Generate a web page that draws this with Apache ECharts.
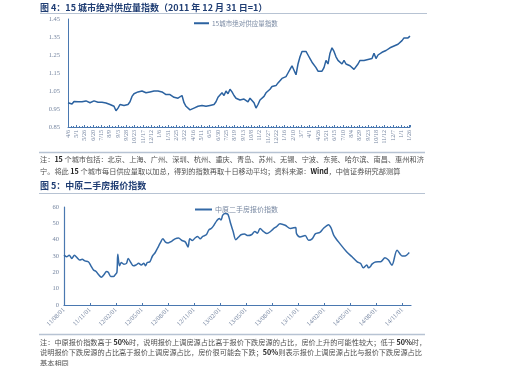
<!DOCTYPE html>
<html><head><meta charset="utf-8">
<script src="https://cdn.jsdelivr.net/npm/echarts@6/dist/echarts.min.js"></script>
<style>html,body{margin:0;padding:0;background:#fff}#c{width:524px;height:366px}</style>
</head><body><div id="c"></div>
<script>
// ---------- Figure 4 ----------
const fig4Title = '图 4：15 城市绝对供应量指数（2011 年 12 月 31 日=1）';
const fig4Legend = '15城市绝对供应量指数';
const fig4XLabels = ['4/6','5/1','5/26','6/20','7/15','8/9','9/3','9/28','10/23','11/17','12/12','1/6','1/31','2/25','3/22','4/16','5/11','6/5','6/30','7/25','8/19','9/13','10/8','11/2','11/27','12/22','1/16','2/10','3/7','4/1','4/26','5/21','6/15','7/10','8/4','8/29','9/23','10/18','11/12','12/7','1/1','1/26'];
const fig4LabelDays = 25;      // days between x labels
const fig4StepDays = 6;        // days between samples
const fig4YMin = 0.85, fig4YMax = 1.45, fig4YStep = 0.1;
const supplyIndex = [
 0.985,0.975,0.978,0.992,0.988,0.990,0.985,0.990,0.993,0.995,
 0.990,0.985,0.992,0.995,0.990,0.988,0.985,0.987,0.980,0.983,
 0.985,0.975,0.980,0.965,0.940,0.955,0.975,0.985,0.970,0.960,
 0.975,0.990,1.020,1.035,1.030,1.045,1.040,1.050,1.045,1.040,
 1.035,1.045,1.040,1.050,1.045,1.050,1.040,1.045,1.035,1.030,
 1.025,1.030,1.020,1.015,1.020,1.010,1.020,1.025,0.985,0.965,
 0.960,0.945,0.940,0.955,0.960,0.965,0.960,0.970,0.962,0.965,
 0.960,0.970,0.965,0.975,0.990,1.015,1.010,1.040,1.025,1.050,
 1.035,1.060,1.045,1.025,1.010,1.000,1.000,0.995,1.005,1.000,
 0.990,1.010,1.000,0.985,0.955,0.975,1.000,1.005,1.020,1.040,
 1.035,1.060,1.075,1.070,1.080,1.095,1.090,1.120,1.110,1.130,
 1.150,1.170,1.190,1.200,1.140,1.200,1.240,1.270,1.260,1.270,
 1.250,1.230,1.210,1.200,1.180,1.160,1.150,1.160,1.180,1.220,
 1.200,1.260,1.290,1.270,1.240,1.220,1.210,1.200,1.220,1.200,
 1.210,1.190,1.200,1.170,1.160,1.200,1.220,1.210,1.220,1.215,
 1.225,1.220,1.230,1.260,1.230,1.250,1.260,1.265,1.270,1.275,
 1.280,1.290,1.285,1.300,1.295,1.310,1.315,1.330,1.345,1.340,
 1.345,1.355
];
const fig4Note = [
 '注：{b|15} 个城市包括：北京、上海、广州、深圳、杭州、重庆、青岛、苏州、无锡、宁波、东莞、哈尔滨、南昌、惠州和济',
 '宁。将此 {b|15} 个城市每日供应量取以加总，得到的指数再取十日移动平均；资料来源：{b|Wind}，中信证券研究部测算'
];

// ---------- Figure 5 ----------
const fig5Title = '图 5：中原二手房报价指数';
const fig5Legend = '中原二手房报价指数';
const fig5XLabels = ['11/08/01','11/11/01','12/02/01','12/05/01','12/08/01','12/11/01','13/02/01','13/05/01','13/08/01','13/11/01','14/02/01','14/05/01','14/08/01','14/11/01'];
const fig5MonthsSpan = 40;     // months from 2011/08 to 2014/12
const fig5LabelMonths = 3;
const fig5Months = [0,0.3,0.6,0.9,1.2,1.5,1.8,2.1,2.4,2.8,3.1,3.4,3.7,4.0,4.3,4.6,4.9,5.1,5.4,5.7,5.9,6.1,6.2,6.4,6.6,6.9,7.2,7.4,7.7,8.0,8.3,8.6,8.9,9.2,9.4,9.6,9.9,10.2,10.5,10.8,11.1,11.4,11.7,12.0,12.4,12.8,13.2,13.6,14.0,14.3,14.5,14.8,15.1,15.4,15.7,16.0,16.4,16.7,17.0,17.3,17.6,17.9,18.1,18.3,18.6,18.9,19.2,19.5,19.8,20.1,20.4,20.8,21.2,21.6,22.0,22.3,22.6,23.0,23.4,23.8,24.1,24.5,24.9,25.5,26.1,26.7,26.8,27.2,27.8,28.2,28.6,29.0,29.5,29.9,30.5,30.8,31.1,31.8,32.6,33.2,33.8,34.2,34.5,34.9,35.1,35.3,35.5,35.9,36.5,37.0,37.4,37.8,38.4,39.0,39.3,39.8];
const fig5Values = [30.5,29.5,30.5,28.5,30.5,29,27.5,28,27,26.5,24,21.5,20.5,18.5,17,18.5,20.5,20,17.5,17.5,18.5,20,31,24,26,25,25.5,28.5,26,24,24.5,25.5,24.5,25.5,24,26,26.5,30,32,35,38,40.5,38.5,38,39,40.5,41,39.5,38.5,35.5,40.5,39.5,41,42,40.5,42,43,46,47,49,51.5,53,52,55,56,55.5,50,45,40,41.5,43,43.5,42.5,43,45,44,46.8,45,43.7,45,46.5,48,49.8,48.8,46.8,47.5,43.7,41.7,42.5,39.6,40.5,43.7,44.5,46.8,49.2,47,42.7,37.6,32.5,29.5,26.4,25.4,22.8,24.5,22.8,23.4,25,26.4,26.5,28.9,27.5,24.4,33.5,30,30,32.1];
const fig5Note = [
 '注：中原报价指数高于 {b|50%}时，说明报价上调房源占比高于报价下跌房源的占比，房价上升的可能性较大；低于 {b|50%}时，',
 '说明报价下跌房源的占比高于报价上调房源占比，房价很可能会下跌；{b|50%}则表示报价上调房源占比与报价下跌房源占比',
 '基本相同'
];

// ---------- styles ----------
const CJK = '"Noto Sans CJK SC", sans-serif';
const SERIF = '"Liberation Serif", serif';
const titleColor = '#1f3d73';
const ruleColor = '#b7c3d3';
const tickText = '#7585a0';
const axisBlue = '#4a78b0';

const chart = echarts.init(document.getElementById('c'), null, {renderer: 'canvas'});

function noteText(lines, x, y0, dy) {
  return lines.map((t, i) => ({
    type: 'text', x: x, y: y0 + i * dy,
    style: {
      text: t, fontFamily: CJK, fontSize: 7.2, fill: '#505050', verticalAlign: 'middle', lineHeight: 9,
      rich: { b: { fontFamily: CJK, fontWeight: 'bold', fontSize: 7.2, lineHeight: 9, fill: '#222' } }
    }
  }));
}

const graphics = [
  {type: 'text', x: 40, y: 8, style: {text: fig4Title, fontFamily: CJK, fontWeight: 'bold', fontSize: 9, fill: titleColor, verticalAlign: 'middle'}},
  {type: 'line', shape: {x1: 40, y1: 13.5, x2: 427, y2: 13.5}, style: {stroke: ruleColor, lineWidth: 1}},
  {type: 'line', shape: {x1: 39, y1: 152.5, x2: 425, y2: 152.5}, style: {stroke: ruleColor, lineWidth: 1.5}},
  ...noteText(fig4Note, 40, 159, 12),
  {type: 'text', x: 40, y: 186, style: {text: fig5Title, fontFamily: CJK, fontWeight: 'bold', fontSize: 9, fill: titleColor, verticalAlign: 'middle'}},
  {type: 'line', shape: {x1: 39, y1: 193.5, x2: 425, y2: 193.5}, style: {stroke: ruleColor, lineWidth: 1}},
  {type: 'line', shape: {x1: 39, y1: 334.5, x2: 425, y2: 334.5}, style: {stroke: ruleColor, lineWidth: 1.5}},
  ...noteText(fig5Note, 40, 342, 10.5)
];

const option = {
  animation: false,
  backgroundColor: '#fff',
  graphic: graphics,
  legend: [
    {data: [fig4Legend], left: 189, top: 15, itemWidth: 15, itemHeight: 2, icon: 'rect', itemGap: 3,
     textStyle: {fontFamily: CJK, fontSize: 6.5, color: '#7a8aa3', padding: [0,0,0,-2]}},
    {data: [fig5Legend], left: 190, top: 201, itemWidth: 17, itemHeight: 2, icon: 'rect', itemGap: 3,
     textStyle: {fontFamily: CJK, fontSize: 7, color: '#7a8aa3', padding: [0,0,0,-2]}}
  ],
  grid: [
    {left: 68, top: 19, width: 342, height: 108, containLabel: false, outerBoundsMode: 'none'},
    {left: 64, top: 207, width: 347, height: 98, containLabel: false, outerBoundsMode: 'none'}
  ],
  xAxis: [
    {gridIndex: 0, type: 'value', min: 0, max: (fig4XLabels.length - 1) * fig4LabelDays + 1,
     interval: fig4LabelDays, splitLine: {show: false},
     axisLine: {lineStyle: {color: axisBlue, width: 1}},
     axisTick: {show: true, inside: true, length: 2, lineStyle: {color: axisBlue}},
     minorTick: {show: true, splitNumber: 3, length: 1, lineStyle: {color: axisBlue}},
     axisLabel: {rotate: 90, margin: 3, fontFamily: SERIF, fontSize: 6, color: tickText, showMaxLabel: false,
       formatter: v => (v % fig4LabelDays === 0 ? (fig4XLabels[v / fig4LabelDays] || '') : '')}},
    {gridIndex: 1, type: 'value', min: 0, max: fig5MonthsSpan, interval: fig5LabelMonths,
     splitLine: {show: false},
     axisLine: {lineStyle: {color: axisBlue, width: 1.2}},
     axisTick: {show: true, inside: true, length: 2, lineStyle: {color: axisBlue}},
     axisLabel: {rotate: 45, margin: 4, fontFamily: SERIF, fontSize: 6.5, color: tickText, showMaxLabel: false,
       formatter: v => (v % fig5LabelMonths === 0 ? (fig5XLabels[v / fig5LabelMonths] || '') : '')}}
  ],
  yAxis: [
    {gridIndex: 0, type: 'value', min: fig4YMin, max: fig4YMax, interval: fig4YStep,
     splitLine: {show: false},
     axisLine: {show: true, lineStyle: {color: axisBlue, width: 1}},
     axisTick: {show: false},
     axisLabel: {margin: 8, fontFamily: SERIF, fontSize: 6.5, color: tickText, formatter: v => v.toFixed(2)}},
    {gridIndex: 1, type: 'value', min: 0, max: 60, interval: 10,
     splitLine: {show: false},
     axisLine: {show: true, lineStyle: {color: axisBlue, width: 1.2}},
     axisTick: {show: false},
     axisLabel: {margin: 5, fontFamily: SERIF, fontSize: 6.5, color: tickText}}
  ],
  series: [
    {name: fig4Legend, type: 'line', xAxisIndex: 0, yAxisIndex: 0, showSymbol: false, symbol: 'none',
     data: supplyIndex.map((v, i) => [i * fig4StepDays, v]),
     lineStyle: {color: '#2b62a0', width: 1.5}, itemStyle: {color: '#2b62a0'}},
    {name: fig5Legend, type: 'line', xAxisIndex: 1, yAxisIndex: 1, showSymbol: false, symbol: 'none', smooth: 0.3,
     data: fig5Months.map((m, i) => [m, fig5Values[i]]),
     lineStyle: {color: '#3369a6', width: 1.5}, itemStyle: {color: '#3369a6'}}
  ]
};
chart.setOption(option);
</script>
</body></html>
